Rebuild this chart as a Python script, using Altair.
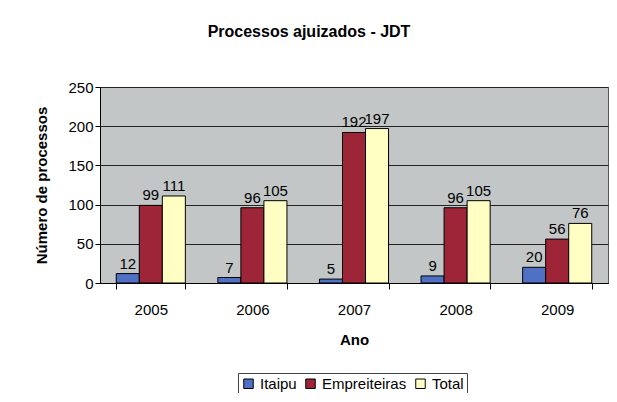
import altair as alt
import pandas as pd

anos = ["2005", "2006", "2007", "2008", "2009"]
itaipu = [12, 7, 5, 9, 20]
empreiteiras = [99, 96, 192, 96, 56]
total = [111, 105, 197, 105, 76]
series = ["Itaipu", "Empreiteiras", "Total"]
cores = ["#5070C4", "#9E2438", "#FFFFC4"]

rows = []
for i, a in enumerate(anos):
    for s, vals in zip(series, [itaipu, empreiteiras, total]):
        rows.append({"Ano": a, "Serie": s, "Valor": vals[i]})
df = pd.DataFrame(rows)

FONT = "Liberation Sans"

x = alt.X("Ano:N", sort=anos, title="Ano",
          scale=alt.Scale(paddingInner=0.32, paddingOuter=0.16),
          axis=alt.Axis(labelAngle=0, labelFontSize=15, labelPadding=13,
                        titleFontSize=15, titleFontWeight="bold", titlePadding=15,
                        tickBand="extent", tickSize=6, domainColor="#000",
                        tickColor="#000", labelColor="#000", titleColor="#000", grid=False,
                        labelFont=FONT, titleFont=FONT))
xo = alt.XOffset("Serie:N", sort=series, scale=alt.Scale(paddingInner=0, paddingOuter=0))
y = alt.Y("Valor:Q", title="Número de processos",
          scale=alt.Scale(domain=[0, 250]),
          axis=alt.Axis(values=[0, 50, 100, 150, 200, 250], labelFontSize=15,
                        titleFontSize=15, titleFontWeight="bold", titlePadding=18,
                        tickSize=5, gridColor="#222", gridWidth=1, domainColor="#000",
                        tickColor="#000", labelColor="#000", titleColor="#000",
                        labelFont=FONT, titleFont=FONT))

color = alt.Color("Serie:N", sort=series,
                  scale=alt.Scale(domain=series, range=cores),
                  legend=alt.Legend(title=None, orient="none", legendX=138, legendY=286,
                                    direction="horizontal", symbolType="square",
                                    symbolStrokeColor="#000", symbolStrokeWidth=1,
                                    symbolSize=90, labelFontSize=15, columnPadding=6,
                                    symbolOpacity=1, labelColor="#000", labelFont=FONT,
                                    strokeColor="#444", padding=3))

bars = alt.Chart(df).mark_bar(stroke="#000", strokeWidth=1, opacity=1).encode(
    x=x, xOffset=xo, y=y, color=color)
labels = alt.Chart(df).mark_text(dy=-10, fontSize=15, font=FONT, color="#000").encode(
    x=x, xOffset=xo, y=y, text="Valor:Q")

chart = alt.layer(bars, labels).properties(
    width=508, height=196,
    title=alt.TitleParams("Processos ajuizados - JDT", fontSize=16, fontWeight="bold",
                          font=FONT, dx=-45, offset=40, color="#000"),
    autosize=alt.AutoSizeParams(type="none"),
    padding={"left": 92, "top": 79, "right": 1, "bottom": 110},
).configure_view(fill="#C2C6C6", stroke="#555")

chart.save("out.html", embed_options={"renderer": "svg", "actions": False})
